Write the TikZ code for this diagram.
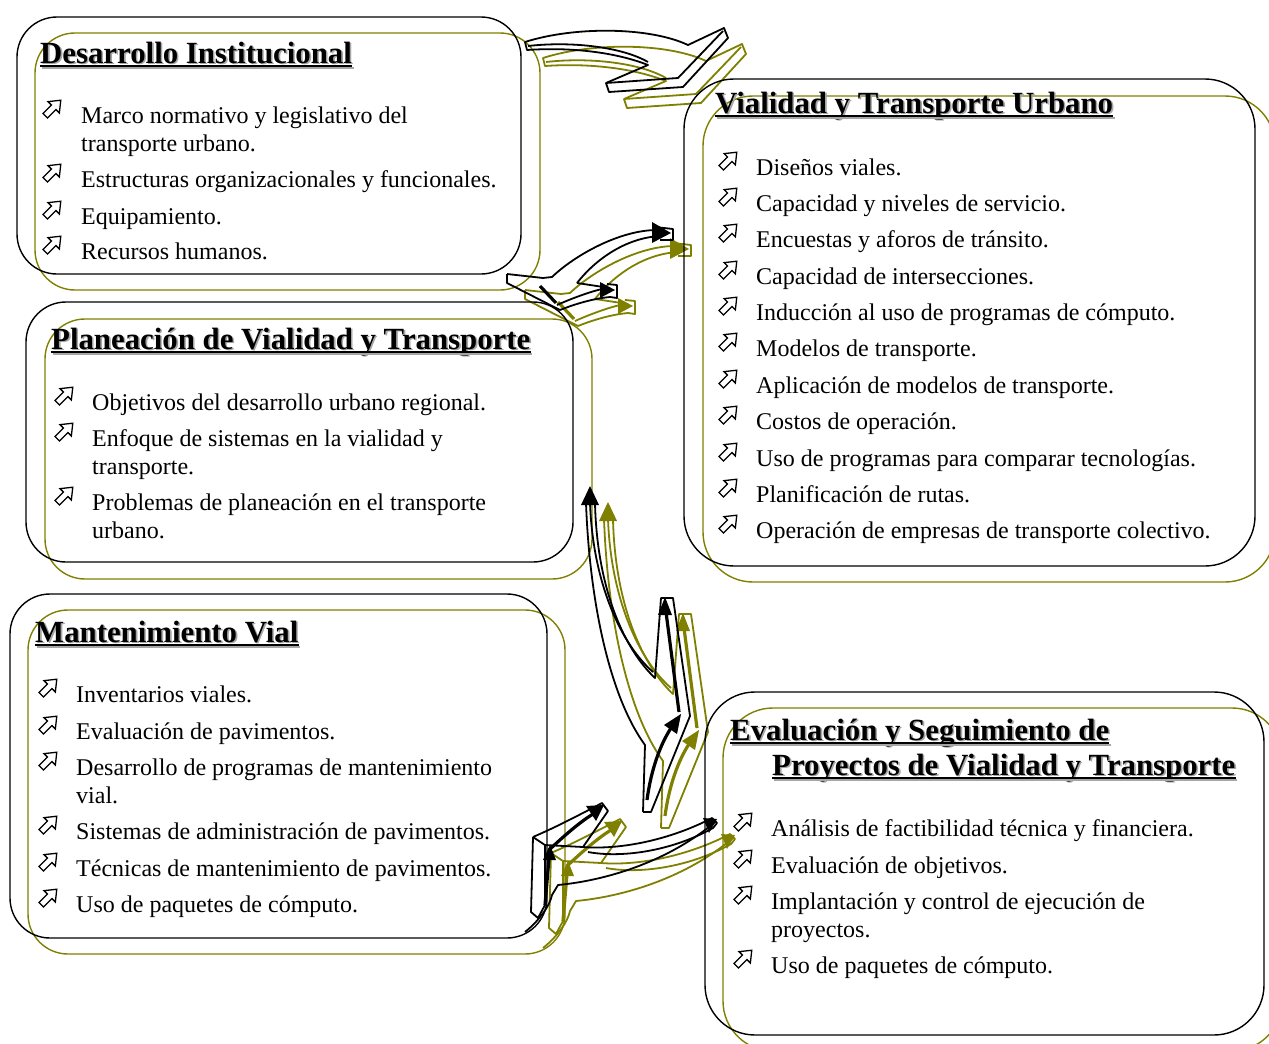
\documentclass[tikz,border=0pt]{standalone}
\usepackage{fontspec}
\setmainfont{Liberation Serif}

\definecolor{oliva}{RGB}{128,128,0}

\tikzset{
  caja/.style={line width=1.4pt, rounded corners=40pt},
  texto/.style={anchor=base west, inner sep=0pt, font=\fontsize{24}{28}\selectfont},
  tit/.style={anchor=base west, inner sep=0pt, font=\bfseries\fontsize{30.8}{34}\selectfont},
  trazo/.style={line width=1.8pt, line join=round},
  grueso/.style={line width=3.2pt},
  vineta/.pic={\draw[line width=1.3pt, rotate=45] (-11,-3.2) -- (1,-3.2) -- (1,-8) -- (11,0) -- (1,8) -- (1,3.2) -- (-11,3.2) -- cycle;}
}

% titulo con sombra y subrayado
\newcommand{\titulo}[3]{%
  \node[tit, text=black!35] (#1s) at ([shift={(1.6,1.6)}]#2) {#3};
  \node[tit] (#1) at (#2) {#3};
  \draw[line width=2pt, black!35] ([shift={(1.6pt,-4.6pt)}]#1.base west) -- ([shift={(1.6pt,-4.6pt)}]#1.base east);
  \draw[line width=2pt] ([yshift=-3pt]#1.base west) -- ([yshift=-3pt]#1.base east);
}

% flechas curvas entre las cajas
\newcommand{\flechas}[1]{%
  % arriba
  \draw[trazo,#1] (525,42) .. controls (575,26) and (650,27) .. (688,45) -- (724,28) -- (728,38) -- (683,87) -- (609,92) -- (606,83) -- (648,65) .. controls (615,52) and (570,47) .. (527,50) -- cycle;
  \draw[trazo,#1] (528,46) .. controls (572,41) and (622,47) .. (648,62);
  \draw[trazo,#1] (606,83) -- (678,78) -- (723,31);
  % hacia vialidad
  \draw[trazo,#1] (507,274) -- (543,278) -- (552,277) .. controls (575,255) and (620,230) .. (657,230);
  \draw[trazo,#1] (507,274) -- (507,283) -- (560,310);
  \draw[trazo,#1] (577,283) .. controls (595,260) and (625,238) .. (660,236);
  \draw[trazo,#1] (655,227) -- (673,229) -- (673,240) -- (660,240);
  \fill[#1] (652,222) -- (671,233) -- (652,243) -- cycle;
  \draw[trazo,#1] (557,305) .. controls (575,297) and (595,290) .. (607,288);
  \draw[trazo,#1] (560,310) .. controls (580,302) and (598,298) .. (610,297);
  \draw[trazo,#1] (607,284) -- (617,285) -- (617,298) -- (610,297);
  \fill[#1] (600,282) -- (615,290) -- (600,298) -- cycle;
  \draw[trazo,#1] (577,283) -- (610,288);
  \draw[grueso,#1] (540,286) -- (556,303);
  % centro
  \draw[trazo,#1] (643,812) -- (651,812) -- (690,716) -- (673,598) -- (661,598) -- (655,678) .. controls (625,650) and (597,590) .. (595,503);
  \draw[trazo,#1] (586,503) .. controls (590,610) and (612,700) .. (645,745) -- (643,812);
  \draw[trazo,#1] (590,503) .. controls (593,585) and (622,645) .. (653,672);
  \fill[#1] (581,505) -- (590,486) -- (599,505) -- cycle;
  \draw[grueso,#1] (666,612) -- (679,712);
  \fill[#1] (658,615) -- (665,597) -- (672,615) -- cycle;
  \draw[grueso,#1] (647,800) .. controls (651,770) and (660,745) .. (671,728);
  \fill[#1] (664,725) -- (681,714) -- (677,734) -- cycle;
  % abajo
  \draw[trazo,#1] (533,837) -- (542,833) .. controls (560,825) and (585,812) .. (602,803) -- (608,811) -- (583,847) .. controls (620,850) and (670,840) .. (712,818) -- (717,823) -- (713,828) .. controls (670,852) and (620,858) .. (588,852);
  \draw[trazo,#1] (533,837) -- (531,912) -- (538,918) -- (545,905) -- (545,845) -- (533,837);
  \draw[trazo,#1] (545,845) -- (583,847);
  \draw[trazo,#1] (525,932) .. controls (540,920) and (550,905) .. (552,895) -- (558,885) .. controls (610,880) and (670,860) .. (715,822);
  \fill[#1] (543,860) -- (550,845) -- (556,860) -- cycle;
  \draw[grueso,#1] (549,858) -- (545,905);
  \draw[grueso,#1] (549,850) .. controls (565,835) and (580,822) .. (593,814);
  \fill[#1] (586,806) -- (604,805) -- (596,821) -- cycle;
  \fill[#1] (703,818) -- (717,819) -- (709,833) -- cycle;
}

\begin{document}
\begin{tikzpicture}[x=1pt, y=-1pt]
\useasboundingbox (0,0) rectangle (1269,1044);
\clip (0,0) rectangle (1269,1044);

% cajas de sombra
\draw[caja, oliva] (35,33) rectangle (540,290);
\draw[caja, oliva, rounded corners=50pt] (703,96) rectangle (1275,582);
\draw[caja, oliva] (45,319) rectangle (592,579);
\draw[caja, oliva] (28,610) rectangle (565,954);
\draw[caja, oliva, rounded corners=50pt] (723,708) rectangle (1282,1051);
\begin{scope}[shift={(18,16)}]
  \flechas{oliva}
\end{scope}

% cajas
\draw[caja] (17,17) rectangle (521,274);
\draw[caja, rounded corners=50pt] (684,79) rectangle (1255,566);
\draw[caja] (26,302) rectangle (573,562);
\draw[caja] (10,594) rectangle (547,938);
\draw[caja, rounded corners=50pt] (705,692) rectangle (1264,1035);
\flechas{black}

% Desarrollo Institucional
\titulo{t1}{40,63}{Desarrollo Institucional}
\begin{scope}
\clip (0,0) rectangle (540,260);
\foreach \y/\b/\t [count=\i] in {123/1/{Marco normativo y legislativo del}, 151/0/{transporte urbano.},
    187/1/{Estructuras organizacionales y funcionales.}, 224/1/{Equipamiento.}, 259/1/{Recursos humanos.}} {
  \ifnum\b=1 \pic at (53,\y-15) {vineta}; \fi
  \node[texto] (d\i) at (81,\y) {\t};
}
\end{scope}

% Vialidad y Transporte Urbano
\titulo{t2}{715,113}{Vialidad y Transporte Urbano}
\foreach \y/\t [count=\i] in {175/{Diseños viales.}, 211/{Capacidad y niveles de servicio.},
    247/{Encuestas y aforos de tránsito.}, 284/{Capacidad de intersecciones.},
    320/{Inducción al uso de programas de cómputo.}, 356/{Modelos de transporte.},
    393/{Aplicación de modelos de transporte.}, 429/{Costos de operación.},
    466/{Uso de programas para comparar tecnologías.}, 502/{Planificación de rutas.},
    538/{Operación de empresas de transporte colectivo.}} {
  \pic at (729,\y-15) {vineta};
  \node[texto] (v\i) at (756,\y) {\t};
}

% Planeacion
\titulo{t3}{51,349}{Planeación de Vialidad y Transporte}
\foreach \y/\b/\t [count=\i] in {410/1/{Objetivos del desarrollo urbano regional.},
    446/1/{Enfoque de sistemas en la vialidad y}, 474/0/{transporte.},
    510/1/{Problemas de planeación en el transporte}, 538/0/{urbano.}} {
  \ifnum\b=1 \pic at (65,\y-15) {vineta}; \fi
  \node[texto] (p\i) at (92,\y) {\t};
}

% Mantenimiento Vial
\titulo{t4}{35,642}{Mantenimiento Vial}
\foreach \y/\b/\t [count=\i] in {702/1/{Inventarios viales.}, 739/1/{Evaluación de pavimentos.},
    775/1/{Desarrollo de programas de mantenimiento}, 803/0/{vial.},
    839/1/{Sistemas de administración de pavimentos.},
    876/1/{Técnicas de mantenimiento de pavimentos.}, 912/1/{Uso de paquetes de cómputo.}} {
  \ifnum\b=1 \pic at (49,\y-15) {vineta}; \fi
  \node[texto] (m\i) at (76,\y) {\t};
}

% Evaluacion y Seguimiento
\titulo{t5}{730,740}{Evaluación y Seguimiento de}
\titulo{t6}{772,775}{Proyectos de Vialidad y Transporte}
\foreach \y/\b/\t [count=\i] in {836/1/{Análisis de factibilidad técnica y financiera.},
    873/1/{Evaluación de objetivos.}, 909/1/{Implantación y control de ejecución de},
    937/0/{proyectos.}, 973/1/{Uso de paquetes de cómputo.}} {
  \ifnum\b=1 \pic at (744,\y-15) {vineta}; \fi
  \node[texto] (e\i) at (771,\y) {\t};
}
\end{tikzpicture}
\end{document}
